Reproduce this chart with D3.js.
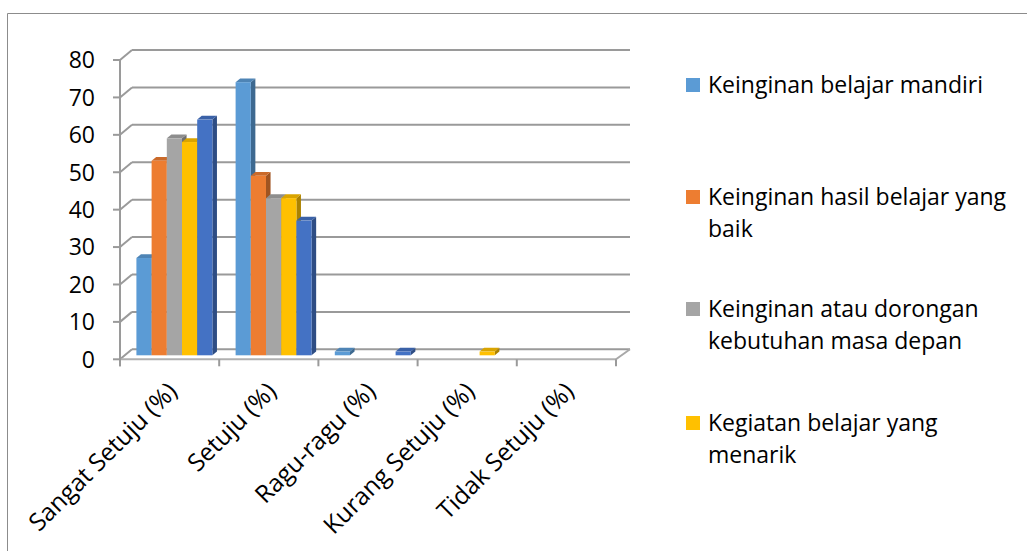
<!DOCTYPE html>
<html>
<head>
<meta charset="utf-8">
<script src="https://cdn.jsdelivr.net/npm/d3@7"></script>
<style>
  html, body { margin: 0; padding: 0; background: #fff; }
  svg { display: block; }
  text { font-family: "Open Sans", "Noto Sans", sans-serif; fill: #000; }
</style>
</head>
<body>
<svg id="chart" width="1027" height="551"></svg>
<script>
// Response categories along the floor of the chart
const categories = ["Sangat Setuju (%)", "Setuju (%)", "Ragu-ragu (%)", "Kurang Setuju (%)", "Tidak Setuju (%)"];

// Series names (the fifth series carries no legend label)
const seriesNames = [
  "Keinginan belajar mandiri",
  "Keinginan hasil belajar yang baik",
  "Keinginan atau dorongan kebutuhan masa depan",
  "Kegiatan belajar yang menarik",
  ""
];

// Percentages per category, one array per series
const belajarMandiri   = [26, 73, 1, 0, 0];
const hasilBelajar     = [52, 48, 0, 0, 0];
const kebutuhanDepan   = [58, 42, 0, 0, 0];
const kegiatanMenarik  = [57, 42, 0, 1, 0];
const seriesLima       = [63, 36, 1, 0, 0];

const yTicks = [0, 10, 20, 30, 40, 50, 60, 70, 80];

const seriesColors = ["#5B9BD5", "#ED7D31", "#A5A5A5", "#FFC000", "#4472C4"];

const seriesValues = [belajarMandiri, hasilBelajar, kebutuhanDepan, kegiatanMenarik, seriesLima];

const svg = d3.select("#chart");

// Outer chart frame
svg.append("path")
  .attr("d", "M7.5,560 L7.5,13.5 L1040,13.5")
  .attr("fill", "none")
  .attr("stroke", "#8c8c8c")
  .attr("stroke-width", 1);

// Oblique projection: depth offset of the back wall relative to the front edge
const depth = { dx: 12, dy: -10 };

const x0 = d3.scaleBand()
  .domain(categories)
  .range([120, 616])
  .paddingInner(0.234)
  .paddingOuter(0.117);

const x1 = d3.scaleBand()
  .domain(d3.range(seriesValues.length))
  .range([0, x0.bandwidth()]);

const y = d3.scaleLinear().domain([0, 80]).range([359.3, 60]);

const gridColor = "#9a9a9a";
const grid = svg.append("g");

// Back-wall gridlines plus the diagonal on the left side wall
yTicks.forEach(t => {
  const yf = y(t);
  grid.append("line")
    .attr("x1", 120 + depth.dx).attr("y1", yf + depth.dy)
    .attr("x2", 616 + depth.dx + 2).attr("y2", yf + depth.dy)
    .attr("stroke", gridColor).attr("stroke-width", 2);
  grid.append("line")
    .attr("x1", 120).attr("y1", yf)
    .attr("x2", 120 + depth.dx).attr("y2", yf + depth.dy)
    .attr("stroke", gridColor).attr("stroke-width", 2);
});

// Floor: front edge and right edge
grid.append("line")
  .attr("x1", 120).attr("y1", y(0))
  .attr("x2", 616).attr("y2", y(0))
  .attr("stroke", "#b0b0b0").attr("stroke-width", 2);
grid.append("line")
  .attr("x1", 616).attr("y1", y(0))
  .attr("x2", 616 + depth.dx + 2).attr("y2", y(0) + depth.dy)
  .attr("stroke", "#a8a8a8").attr("stroke-width", 2);

// Vertical value axis with ticks
const axisG = svg.append("g");
axisG.append("line")
  .attr("x1", 120).attr("y1", y(80))
  .attr("x2", 120).attr("y2", y(0) + 7)
  .attr("stroke", gridColor).attr("stroke-width", 2);
yTicks.forEach(t => {
  axisG.append("line")
    .attr("x1", 113).attr("y1", y(t))
    .attr("x2", 120).attr("y2", y(t))
    .attr("stroke", gridColor).attr("stroke-width", 2);
  axisG.append("text")
    .attr("x", 95).attr("y", y(t))
    .attr("dy", "0.36em")
    .attr("text-anchor", "end")
    .style("font-size", "23px")
    .text(t);
});

// Category ticks below the floor
const step = x0.step();
d3.range(categories.length + 1).forEach(i => {
  const xt = 120 + i * step;
  axisG.append("line")
    .attr("x1", xt).attr("y1", y(0))
    .attr("x2", xt).attr("y2", y(0) + 7)
    .attr("stroke", gridColor).attr("stroke-width", 2);
});

// Category labels rotated 45 degrees
categories.forEach(c => {
  const cx = x0(c) + x0.bandwidth() / 2;
  svg.append("text")
    .attr("transform", `translate(${cx + 9},${393}) rotate(-45)`)
    .attr("text-anchor", "end")
    .style("font-size", "24.5px")
    .text(c);
});

// 3D columns: front face sits partway into the floor depth
const f0 = 0.4, f1 = 0.78;
const s0 = { x: depth.dx * f0, y: depth.dy * f0 };
const s1 = { x: depth.dx * f1, y: depth.dy * f1 };
const bars = svg.append("g");

categories.forEach((c, ci) => {
  seriesValues.forEach((vals, si) => {
    const v = vals[ci];
    if (!v) return;
    const base = d3.color(seriesColors[si]);
    const xl = x0(c) + x1(si) + s0.x;
    const xr = xl + x1.bandwidth();
    const yb = y(0) + s0.y;
    const yt = y(v) + s0.y;
    const ddx = s1.x - s0.x, ddy = s1.y - s0.y;
    // right side face
    bars.append("path")
      .attr("d", `M${xr},${yb} L${xr + ddx},${yb + ddy} L${xr + ddx},${yt + ddy} L${xr},${yt} Z`)
      .attr("fill", base.darker(1.1));
    // top face
    bars.append("path")
      .attr("d", `M${xl},${yt} L${xr},${yt} L${xr + ddx},${yt + ddy} L${xl + ddx},${yt + ddy} Z`)
      .attr("fill", base.darker(0.45));
    // front face
    bars.append("rect")
      .attr("x", xl).attr("y", yt)
      .attr("width", x1.bandwidth()).attr("height", yb - yt)
      .attr("fill", base);
  });
});

// Legend with word-wrapped labels
const legend = svg.append("g");
const legendTop = [78, 190, 302, 416];
const maxWidth = 310;
seriesNames.forEach((name, i) => {
  if (!name) return;
  const g = legend.append("g");
  g.append("rect")
    .attr("x", 686).attr("y", legendTop[i])
    .attr("width", 14).attr("height", 14)
    .attr("fill", seriesColors[i]);
  const words = name.split(" ");
  const lines = [];
  let line = [];
  const probe = g.append("text").style("font-size", "23px");
  words.forEach(w => {
    const trial = line.concat(w).join(" ");
    probe.text(trial);
    if (line.length && probe.node().getComputedTextLength() > maxWidth) {
      lines.push(line.join(" "));
      line = [w];
    } else {
      line.push(w);
    }
  });
  lines.push(line.join(" "));
  probe.remove();
  lines.forEach((ln, li) => {
    g.append("text")
      .attr("x", 708)
      .attr("y", legendTop[i] + 15 + li * 32)
      .style("font-size", "23px")
      .text(ln);
  });
});
</script>
</body>
</html>
